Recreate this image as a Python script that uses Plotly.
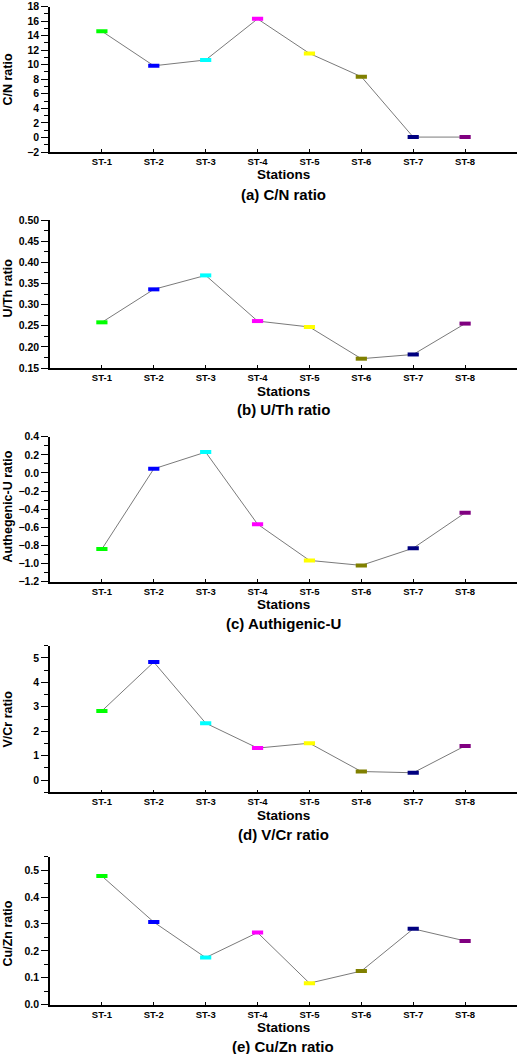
import plotly.graph_objects as go

W, H = 519, 1054

stations = ["ST-1", "ST-2", "ST-3", "ST-4", "ST-5", "ST-6", "ST-7", "ST-8"]
colors = ["#00ff00", "#0000ff", "#00ffff", "#ff00ff", "#ffff00", "#808000", "#000080", "#800080"]

cn_ratio = [14.6, 9.85, 10.65, 16.3, 11.55, 8.35, 0.05, 0.05]
uth_ratio = [0.258, 0.336, 0.369, 0.261, 0.247, 0.172, 0.182, 0.255]
auth_u = [-0.84, 0.045, 0.23, -0.565, -0.965, -1.02, -0.83, -0.44]
vcr_ratio = [2.83, 4.83, 2.33, 1.31, 1.51, 0.35, 0.30, 1.40]
cuzn_ratio = [0.478, 0.307, 0.175, 0.268, 0.080, 0.125, 0.282, 0.237]

series = [cn_ratio, uth_ratio, auth_u, vcr_ratio, cuzn_ratio]
ytitles = ["C/N ratio", "U/Th ratio", "Authegenic-U ratio", "V/Cr ratio", "Cu/Zn ratio"]
ptitles = ["(a) C/N ratio", "(b) U/Th ratio", "(c) Authigenic-U", "(d) V/Cr ratio", "(e) Cu/Zn ratio"]
yranges = [[-2, 18], [0.15, 0.50], [-1.2, 0.4], [-0.5, 5.5], [0, 0.55]]
dticks = [2, 0.05, 0.2, 1, 0.1]
tick0s = [0, 0.15, 0, 0, 0]
tfmts = ["d", ".2f", ".1f", "d", ".1f"]

# pixel geometry
top_px = [6.5, 220, 436.7, 645.7, 856.7]
bot_px = [152, 368, 581.7, 792.3, 1004.7]
ytitle_c = [80, 288, 507, 719, 934]
x_left, x_right = 50, 517

def py(px):
    return 1 - px / H

FONT = "Liberation Sans, Arial, sans-serif"
xpos = list(range(len(stations)))

fig = go.Figure()
layout = dict(
    template="none",
    width=W, height=H,
    margin=dict(l=0, r=0, t=0, b=0, pad=0),
    paper_bgcolor="white", plot_bgcolor="white",
    showlegend=False,
    font=dict(family=FONT, size=10, color="black", weight="bold"),
)
annotations = []
for i in range(5):
    sfx = "" if i == 0 else str(i + 1)
    fig.add_trace(go.Scatter(
        x=xpos, y=series[i], mode="lines",
        line=dict(color="#7a7a7a", width=1),
        xaxis="x" + sfx, yaxis="y" + sfx, hoverinfo="skip",
    ))
    fig.add_trace(go.Scatter(
        x=xpos, y=series[i], mode="markers",
        marker=dict(symbol="line-ew", size=8, line=dict(color=colors, width=4)),
        xaxis="x" + sfx, yaxis="y" + sfx,
    ))
    layout["xaxis" + sfx] = dict(
        domain=[x_left / W, x_right / W], range=[-1, 8],
        anchor="y" + sfx, automargin=False, ticklabeloverflow="allow",
        tickmode="array", tickvals=xpos, ticktext=stations,
        ticks="inside", ticklen=3, tickwidth=1, tickcolor="black",
        showline=True, linecolor="black", linewidth=1.5,
        showgrid=False, zeroline=False,
        tickfont=dict(family=FONT, size=9.5, color="black", weight="bold"),
    )
    layout["yaxis" + sfx] = dict(
        domain=[py(bot_px[i]), py(top_px[i])], range=yranges[i],
        anchor="x" + sfx, automargin=False, ticklabeloverflow="allow",
        tick0=tick0s[i], dtick=dticks[i], tickformat=tfmts[i],
        ticks="outside", ticklen=7, tickwidth=1, tickcolor="black",
        minor=dict(ticks="outside", ticklen=4, tickwidth=1, tickcolor="black",
                   dtick=dticks[i] / 2, tick0=tick0s[i], showgrid=False),
        showline=True, linecolor="black", linewidth=1.5,
        showgrid=False, zeroline=False,
        tickfont=dict(family=FONT, size=10.5, color="black", weight="bold"),
    )
    annotations.append(dict(
        text=ytitles[i], x=7.5 / W, y=py(ytitle_c[i]), xref="paper", yref="paper",
        xanchor="center", yanchor="middle", textangle=-90, showarrow=False,
        font=dict(family=FONT, size=12.5, color="black", weight="bold"),
    ))
    annotations.append(dict(
        text="Stations", x=283 / W, y=py(bot_px[i] + 23), xref="paper", yref="paper",
        xanchor="center", yanchor="middle", showarrow=False,
        font=dict(family=FONT, size=13.5, color="black", weight="bold"),
    ))
    annotations.append(dict(
        text=ptitles[i], x=283 / W, y=py(bot_px[i] + 42), xref="paper", yref="paper",
        xanchor="center", yanchor="middle", showarrow=False,
        font=dict(family=FONT, size=15, color="black", weight="bold"),
    ))

layout["annotations"] = annotations
fig.update_layout(**layout)
fig.write_html(
    "out.html",
    config={"displayModeBar": False},
    post_script="document.body.style.margin='0';document.body.style.padding='0';",
)
